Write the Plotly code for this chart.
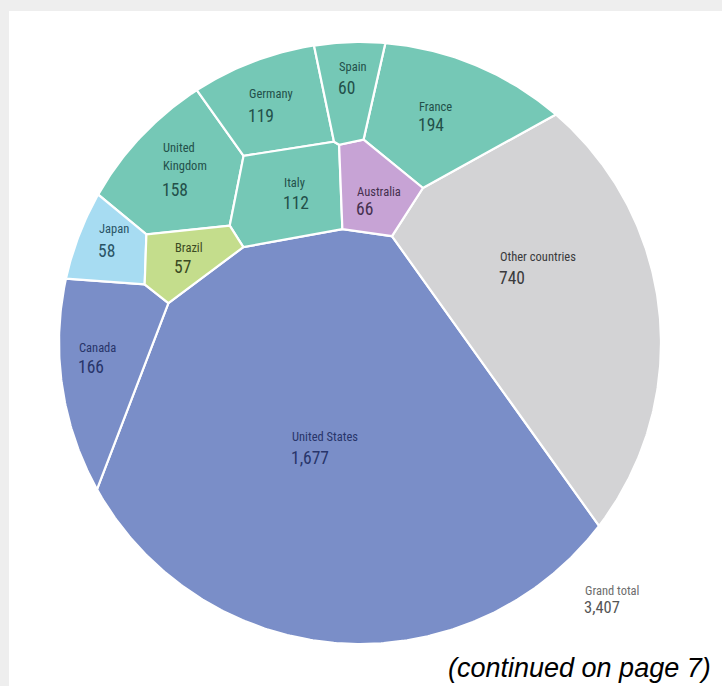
import numpy as np
import plotly.graph_objects as go

# ---- data -------------------------------------------------------------
countries = ["United States", "Other countries", "France", "Canada",
             "United Kingdom", "Germany", "Italy", "Australia", "Spain",
             "Japan", "Brazil"]
values = [1677, 740, 194, 166, 158, 119, 112, 66, 60, 58, 57]
name_lines = [["United States"], ["Other countries"], ["France"], ["Canada"],
              ["United", "Kingdom"], ["Germany"], ["Italy"], ["Australia"],
              ["Spain"], ["Japan"], ["Brazil"]]
grand_total_label = "Grand total"

# ---- layout (pixel space of the page) ---------------------------------
W_PX, H_PX = 722, 686
CX, CY, R = 360.0, 343.0, 301.0
# starting sites of the power diagram, one per country
seeds = np.array([
    [345, 462], [556, 312], [444, 100], [104, 375], [186, 170],
    [284, 104], [296, 192], [380, 190], [364, 88], [117, 264], [196, 258],
], dtype=float)
# text anchors: left x, centre y of first name line
label_pos = [(290, 436), (498, 256), (417, 106), (77, 347), (161, 147),
             (247, 93), (282, 182), (355, 191), (337, 66), (97, 228),
             (173, 247)]
number_gap = [22, 22, 19, 20, 25, 23, 21, 18, 22, 23, 20]

palette = {
    "teal": "#75c8b6", "blue": "#7a8ec8", "sky": "#a7dcf2",
    "lime": "#c4dd8c", "lilac": "#c7a3d5", "grey": "#d3d3d5",
}
ink = {
    "teal": "#23504a", "blue": "#28356a", "sky": "#2a5466",
    "lime": "#3b4a22", "lilac": "#45304f", "grey": "#3a3a3c",
}
group = ["blue", "grey", "teal", "blue", "teal", "teal", "teal", "lilac",
         "teal", "sky", "lime"]

# ---- power-diagram (Voronoi treemap) inside the circle ---------------
theta = np.linspace(0, 2 * np.pi, 721)[:-1]
CIRCLE = np.column_stack([CX + R * np.cos(theta), CY + R * np.sin(theta)])


def clip(poly, a, b):
    """Keep the part of a polygon where a.x <= b."""
    if len(poly) == 0:
        return poly
    f = poly @ a - b
    q = np.roll(poly, -1, axis=0)
    fq = np.roll(f, -1)
    cross = (f * fq) < 0
    t = np.where(cross, f / np.where(cross, f - fq, 1.0), 0.0)
    inter = poly + t[:, None] * (q - poly)
    pts = np.stack([poly, inter], axis=1)
    mask = np.stack([f <= 0, cross], axis=1)
    return pts[mask]


def area_centroid(p):
    if len(p) < 3:
        return 0.0, np.array([np.nan, np.nan])
    x, y = p[:, 0], p[:, 1]
    xn, yn = np.roll(x, -1), np.roll(y, -1)
    c = x * yn - xn * y
    a = c.sum() / 2
    cx = ((x + xn) * c).sum() / (6 * a)
    cy = ((y + yn) * c).sum() / (6 * a)
    return abs(a), np.array([cx, cy])


def power_cells(S, Wt):
    n = len(S)
    polys, J = [], np.zeros((n, n))
    for i in range(n):
        others = [j for j in range(n) if j != i]
        A = 2 * (S[others] - S[i])
        B = (S[others] ** 2).sum(1) - S[i] @ S[i] - Wt[others] + Wt[i]
        poly = CIRCLE
        for a, b in zip(A, B):
            poly = clip(poly, a, b)
        polys.append(poly)
        if len(poly) >= 3:
            F = (poly @ A.T - B) / np.linalg.norm(A, axis=1)
            on = np.abs(F) < 1e-6
            on_edge = on & np.roll(on, -1, axis=0)
            seg = np.linalg.norm(np.roll(poly, -1, 0) - poly, axis=1)
            L = (on_edge * seg[:, None]).sum(0)
            d = np.linalg.norm(S[others] - S[i], axis=1)
            c = L / (2 * d)
            for k, j in enumerate(others):
                J[i, j] -= c[k]
                J[i, i] += c[k]
    return polys, J


def fit_weights(S, target, Wt=None, iters=60):
    Wt = np.zeros(len(S)) if Wt is None else Wt.copy()
    for _ in range(iters):
        polys, J = power_cells(S, Wt)
        areas = np.array([area_centroid(p)[0] for p in polys])
        err = target - areas
        if np.abs(err).max() < 1e-3:
            break
        step = np.linalg.lstsq(J, err, rcond=None)[0]
        s = 1.0
        while s > 1e-4:
            trial = Wt + s * step
            tp, _ = power_cells(S, trial)
            ta = np.array([area_centroid(p)[0] for p in tp])
            if ta.min() > 0 and np.abs(target - ta).max() < np.abs(err).max():
                break
            s *= 0.5
        Wt = Wt + s * step
    return Wt


vals = np.array(values, dtype=float)
target = vals / vals.sum() * np.pi * R ** 2

sites = seeds.copy()
weights = fit_weights(sites, target)
for _ in range(2):  # gentle relaxation of sites toward cell centroids
    polys, _ = power_cells(sites, weights)
    cents = np.array([area_centroid(p)[1] for p in polys])
    sites = 0.6 * sites + 0.4 * cents
    weights = fit_weights(sites, target, weights)
polys, _ = power_cells(sites, weights)

# ---- figure -----------------------------------------------------------
fig = go.Figure()
for k, poly in enumerate(polys):
    xs = np.append(poly[:, 0], poly[0, 0])
    ys = np.append(poly[:, 1], poly[0, 1])
    fig.add_trace(go.Scatter(
        x=xs, y=ys, mode="lines", fill="toself",
        fillcolor=palette[group[k]],
        line=dict(color="white", width=2.2),
        hoverinfo="skip", showlegend=False,
    ))

FAMILY = "Liberation Sans Narrow, Roboto Condensed, Arial Narrow, Roboto, sans-serif"
NAME_FONT = dict(family=FAMILY, size=12.5)
NUM_FONT = dict(family=FAMILY, size=17.5)

for k, name in enumerate(countries):
    x0, y0 = label_pos[k]
    col = ink[group[k]]
    for li, line in enumerate(name_lines[k]):
        fig.add_annotation(x=x0, y=y0 + li * 18, text=line, showarrow=False,
                           xanchor="left", yanchor="middle",
                           font=dict(NAME_FONT, color=col))
    ny = y0 + (len(name_lines[k]) - 1) * 18 + number_gap[k]
    fig.add_annotation(x=x0 - 1, y=ny, text=f"{values[k]:,}", showarrow=False,
                       xanchor="left", yanchor="middle",
                       font=dict(NUM_FONT, color=col))

total = sum(values)
fig.add_annotation(x=583, y=590, text=grand_total_label, showarrow=False,
                   xanchor="left", yanchor="middle",
                   font=dict(family=FAMILY, size=12.5, color="#6d6d6d"))
fig.add_annotation(x=582, y=607, text=f"{total:,}", showarrow=False,
                   xanchor="left", yanchor="middle",
                   font=dict(family=FAMILY, size=16.5, color="#555555"))

fig.add_annotation(x=713, y=668, text="(continued on page 7)", showarrow=False,
                   xanchor="right", yanchor="middle",
                   font=dict(family="Liberation Sans", size=27, color="#000000",
                             style="italic"))

# white page on a light grey backdrop
fig.add_shape(type="rect", x0=9, y0=11, x1=W_PX + 5, y1=H_PX + 5,
              fillcolor="white", line=dict(width=0), layer="below")

fig.update_layout(
    width=W_PX, height=H_PX,
    margin=dict(l=0, r=0, t=0, b=0),
    paper_bgcolor="#eeeeee", plot_bgcolor="#eeeeee",
    xaxis=dict(range=[0, W_PX], visible=False, fixedrange=True),
    yaxis=dict(range=[H_PX, 0], visible=False, fixedrange=True),
)

fig.write_html("out.html")
